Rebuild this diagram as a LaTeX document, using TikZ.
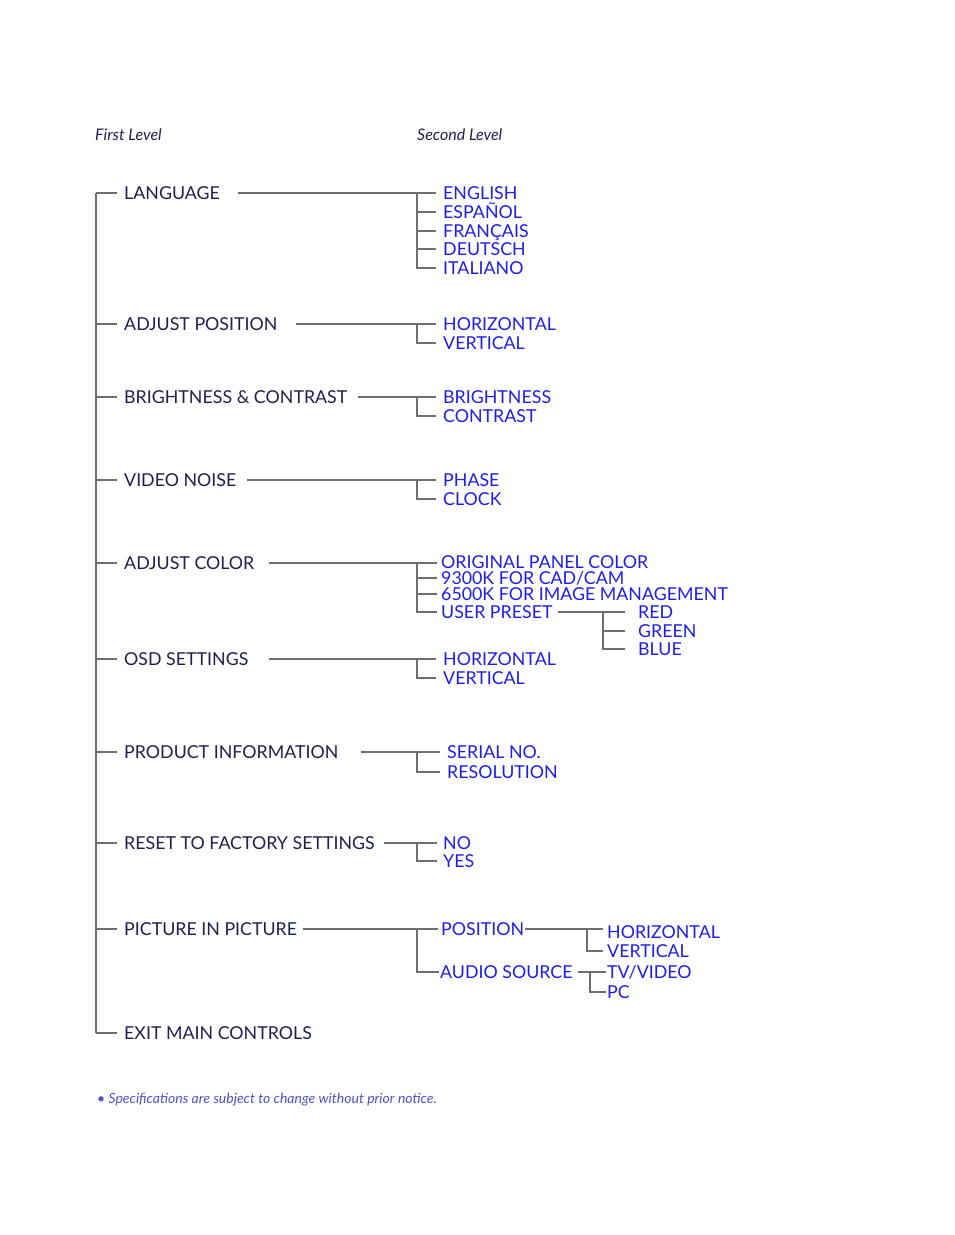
\documentclass[tikz,border=0pt]{standalone}
\usepackage{fontspec}
\setmainfont{Lato}
\definecolor{navy}{RGB}{32,32,80}
\definecolor{myblue}{RGB}{30,30,235}
\definecolor{linegray}{RGB}{110,110,110}
\definecolor{notecol}{RGB}{80,80,200}
\begin{document}
\begin{tikzpicture}[x=1pt,y=-1pt,
  lone/.style={anchor=west, inner sep=0pt, text=navy, font=\fontsize{17.8}{17.8}\selectfont, text height=12.8pt, text depth=0pt},
  ltwo/.style={lone, text=myblue},
  hdr/.style={anchor=west, inner sep=0pt, text=navy, font=\fontsize{16}{16}\selectfont\itshape},
  ln/.style={draw=linegray, line width=1.1pt}]
\useasboundingbox (0,0) rectangle (954,1235);

% headers
\node[hdr] (h1) at (95,135) {First Level};
\node[hdr] (h2) at (417,135) {Second Level};

% first level
\node[lone] (L1) at (124,193) {LANGUAGE};
\node[lone] (L2) at (124,324) {ADJUST POSITION};
\node[lone] (L3) at (124,397) {BRIGHTNESS \& CONTRAST};
\node[lone] (L4) at (124,480) {VIDEO NOISE};
\node[lone] (L5) at (124,563) {ADJUST COLOR};
\node[lone] (L6) at (124,659) {OSD SETTINGS};
\node[lone] (L7) at (124,752) {PRODUCT INFORMATION};
\node[lone] (L8) at (124,843) {RESET TO FACTORY SETTINGS};
\node[lone] (L9) at (124,929) {PICTURE IN PICTURE};
\node[lone] (L10) at (124,1033) {EXIT MAIN CONTROLS};

% main spine
\foreach \i/\y in {1/193,2/324,3/397,4/480,5/563,6/659,7/752,8/843,9/929,10/1033}{
  \coordinate (m\i) at (96,\y);
}
\draw[ln] (m1) -- (m10);
\foreach \i in {1,...,10}{
  \draw[ln] (m\i) -- ([xshift=-7pt]L\i.west);
}

% branch points (same height as their parents)
\coordinate (b1) at (417,193);
\coordinate (b2) at (417,324);
\coordinate (b3) at (417,397);
\coordinate (b4) at (417,480);
\coordinate (b5) at (417,563);
\coordinate (b6) at (417,659);
\coordinate (b7) at (417,752);
\coordinate (b8) at (417,843);
\coordinate (b9) at (417,929);

\draw[ln] ([xshift=18pt]L1.east) -- (b1);
\draw[ln] ([xshift=18pt]L2.east) -- (b2);
\draw[ln] ([xshift=11pt]L3.east) -- (b3);
\draw[ln] ([xshift=10pt]L4.east) -- (b4);
\draw[ln] ([xshift=14pt]L5.east) -- (b5);
\draw[ln] ([xshift=20pt]L6.east) -- (b6);
\draw[ln] ([xshift=22pt]L7.east) -- (b7);
\draw[ln] ([xshift=9pt]L8.east) -- (b8);
\draw[ln] ([xshift=6pt]L9.east) -- (b9);

% second level
\node[ltwo] (c11) at (443,193) {ENGLISH};
\node[ltwo] (c12) at (443,212) {ESPAÑOL};
\node[ltwo] (c13) at (443,231) {FRANÇAIS};
\node[ltwo] (c14) at (443,249) {DEUTSCH};
\node[ltwo] (c15) at (443,268) {ITALIANO};
\foreach \j in {1,...,5}{\draw[ln] (b1) |- ([xshift=-7pt]c1\j.west);}

\node[ltwo] (c21) at (443,324) {HORIZONTAL};
\node[ltwo] (c22) at (443,343) {VERTICAL};
\foreach \j in {1,2}{\draw[ln] (b2) |- ([xshift=-7pt]c2\j.west);}

\node[ltwo] (c31) at (443,397) {BRIGHTNESS};
\node[ltwo] (c32) at (443,416) {CONTRAST};
\foreach \j in {1,2}{\draw[ln] (b3) |- ([xshift=-7pt]c3\j.west);}

\node[ltwo] (c41) at (443,480) {PHASE};
\node[ltwo] (c42) at (443,499) {CLOCK};
\foreach \j in {1,2}{\draw[ln] (b4) |- ([xshift=-7pt]c4\j.west);}

\node[ltwo] (c51) at (441,562) {ORIGINAL PANEL COLOR};
\node[ltwo] (c52) at (441,578) {9300K FOR CAD/CAM};
\node[ltwo] (c53) at (441,594) {6500K FOR IMAGE MANAGEMENT};
\node[ltwo] (c54) at (441,612) {USER PRESET};
\draw[ln] (b5) -- ([xshift=-4pt]c51.west |- b5);
\foreach \j in {2,...,4}{\draw[ln] (b5) |- ([xshift=-4pt]c5\j.west);}

\coordinate (b54) at (603,612);
\node[ltwo] (d1) at (638,612) {RED};
\node[ltwo] (d2) at (638,631) {GREEN};
\node[ltwo] (d3) at (638,649) {BLUE};
\draw[ln] ([xshift=5pt]c54.east) -- ([xshift=-13pt]d1.west);
\foreach \j in {2,3}{\draw[ln] (b54) |- ([xshift=-13pt]d\j.west);}

\node[ltwo] (c61) at (443,659) {HORIZONTAL};
\node[ltwo] (c62) at (443,678) {VERTICAL};
\foreach \j in {1,2}{\draw[ln] (b6) |- ([xshift=-7pt]c6\j.west);}

\node[ltwo] (c71) at (447,752) {SERIAL NO.};
\node[ltwo] (c72) at (447,772) {RESOLUTION};
\foreach \j in {1,2}{\draw[ln] (b7) |- ([xshift=-7pt]c7\j.west);}

\node[ltwo] (c81) at (443,843) {NO};
\node[ltwo] (c82) at (443,861) {YES};
\foreach \j in {1,2}{\draw[ln] (b8) |- ([xshift=-6pt]c8\j.west);}

\node[ltwo] (c91) at (441,929) {POSITION};
\node[ltwo] (c92) at (440,972) {AUDIO SOURCE};
\draw[ln] (b9) |- ([xshift=-3pt]c91.west);
\draw[ln] (b9) |- ([xshift=-1pt]c92.west);

\coordinate (b91) at (587,929);
\node[ltwo] (e1) at (607,932) {HORIZONTAL};
\node[ltwo] (e2) at (607,951) {VERTICAL};
\draw[ln] ([xshift=1pt]c91.east) -- ([xshift=-4pt]e1.west |- c91.east);
\draw[ln] (b91) |- ([xshift=-4pt]e2.west);

\coordinate (b92) at (590,972);
\node[ltwo] (e3) at (607,972) {TV/VIDEO};
\node[ltwo] (e4) at (607,992) {PC};
\draw[ln] ([xshift=5pt]c92.east) -- ([xshift=-1pt]e3.west);
\draw[ln] (b92) |- ([xshift=-1pt]e4.west);

% footnote
\node[anchor=west, inner sep=0pt, text=notecol, font=\fontsize{14}{14}\selectfont\itshape] (fn) at (97,1100) {• Specifications are subject to change without prior notice.};
\end{tikzpicture}
\end{document}
